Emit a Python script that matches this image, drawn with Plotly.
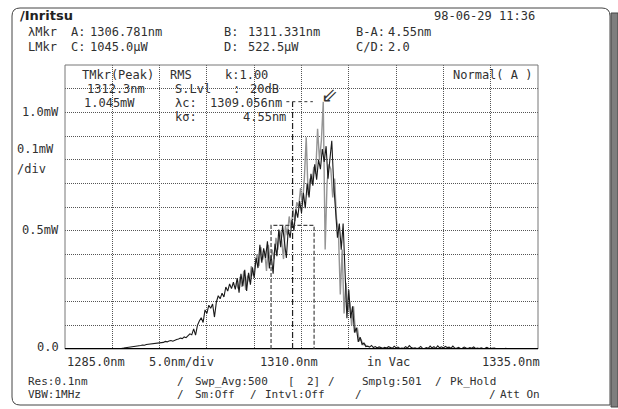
import plotly.graph_objects as go

# ---------------- data ----------------
wl_start = 1285.0
wl_step = 0.2
black_mw = [
    # 1285.0 - 1290.8
    0, 0, 0, 0, 0, 0, 0, 0, 0, 0,
    0, 0, 0, 0, 0, 0, 0, 0, 0, 0,
    0, 0, 0, 0, 0, 0, 0.001, 0.001, 0.002, 0.002,
    # 1291.0 - 1316.8
    0.003, 0.004, 0.005, 0.006, 0.008, 0.009, 0.010, 0.012, 0.013, 0.014,
    0.015, 0.017, 0.016, 0.019, 0.020, 0.022, 0.021, 0.024, 0.025, 0.026,
    0.027, 0.029, 0.028, 0.032, 0.030, 0.034, 0.036, 0.033, 0.038, 0.040,
    0.042, 0.046, 0.044, 0.051, 0.048, 0.058, 0.064, 0.060, 0.085, 0.059,
    0.100, 0.118, 0.132, 0.112, 0.165, 0.150, 0.185, 0.172, 0.190, 0.135,
    0.198, 0.225, 0.212, 0.236, 0.220, 0.262, 0.245, 0.275, 0.255, 0.282,
    0.252, 0.300, 0.238, 0.318, 0.265, 0.335, 0.245, 0.322, 0.272, 0.345,
    0.300, 0.385, 0.342, 0.440, 0.365, 0.425, 0.385, 0.455, 0.340, 0.395,
    0.318, 0.445, 0.392, 0.505, 0.430, 0.520, 0.445, 0.385, 0.505, 0.470,
    0.545, 0.500, 0.590, 0.555, 0.625, 0.575, 0.660, 0.595, 0.700, 0.640,
    0.740, 0.690, 0.780, 0.715, 0.800, 0.760, 0.845, 0.790, 0.857, 0.720,
    0.800, 0.880, 0.700, 0.560, 0.470, 0.530, 0.420, 0.530, 0.300, 0.130,
    0.250, 0.130, 0.180, 0.070, 0.090, 0.030, 0.050, 0.020, 0.025, 0.010,
    # 1317.0 - 1335.0
    0.012, 0.008, 0.015, 0.006, 0.010, 0.004, 0.009, 0.005, 0.003, 0.007,
    0.004, 0.010, 0.006, 0.003, 0.012, 0.005, 0.008, 0.002, 0.004, 0.003,
    0.010, 0.004, 0.014, 0.006, 0.003, 0.005, 0.002, 0.004, 0.011, 0.003,
    0.002, 0.006, 0.003, 0.012, 0.004, 0.010, 0.003, 0.013, 0.005, 0.009,
    0.004, 0.011, 0.006, 0.008, 0.003, 0.012, 0.004, 0.003, 0.007, 0.002,
    0.003, 0.008, 0.004, 0.002, 0.006, 0.003, 0.009, 0.002, 0.004, 0.002,
    0.005, 0.002, 0.003, 0.007, 0.002, 0.003, 0.002, 0.004, 0.001, 0.002,
    0.001, 0.002, 0.001, 0.003, 0.001, 0.001, 0.002, 0.001, 0.001, 0.001,
    0.001, 0.000, 0.001, 0.001, 0.000, 0.001, 0.000, 0.000, 0.001, 0.000,
    0.000,
]
gray_start = 1303.1
gray_mw = [
    0.280, 0.255, 0.305, 0.262, 0.330, 0.250, 0.310, 0.285, 0.350, 0.310,
    0.360, 0.400, 0.350, 0.430, 0.378, 0.415, 0.330, 0.440, 0.360, 0.420,
    0.380, 0.470, 0.420, 0.500, 0.460, 0.380, 0.520, 0.480, 0.560, 0.510,
    0.590, 0.540, 0.620, 0.600, 0.680, 0.610, 0.720, 0.895, 0.650, 0.720,
    0.700, 0.770, 0.740, 0.930, 0.800, 0.880, 1.045, 0.420, 0.700, 0.780,
    0.760, 0.640, 0.720, 0.550, 0.500, 0.230, 0.420, 0.150, 0.280, 0.160,
    0.200, 0.100, 0.180, 0.070, 0.090, 0.035, 0.040, 0.018, 0.020, 0.010,
]
black_wl = [round(wl_start + wl_step * i, 1) for i in range(len(black_mw))]
gray_wl = [round(gray_start + wl_step * i, 1) for i in range(len(gray_mw))]

x_range = [1285.0, 1335.0]
y_range = [0.0, 1.2]
peak_wl, peak_mw = 1312.3, 1.045
lambda_c = 1309.056
mkr_a, mkr_b = 1306.781, 1311.331
mkr_d = 0.5225

# ---------------- layout helpers ----------------
W, H = 618, 409
L, T, R, B = 65, 65, 538, 349


def px(x):
    return (x - L) / (R - L)


def py(y):
    return (B - y) / (B - T)


FONT = "DejaVu Sans Mono"
TXT = "#303030"
FS = 12

fig = go.Figure()
fig.add_trace(go.Scatter(x=gray_wl, y=gray_mw, mode="lines",
                         line=dict(color="#959595", width=1.4), hoverinfo="skip"))
fig.add_trace(go.Scatter(x=black_wl, y=black_mw, mode="lines",
                         line=dict(color="#1a1a1a", width=1.1), hoverinfo="skip"))

shapes = []
# plot border
shapes.append(dict(type="rect", xref="paper", yref="paper", x0=0, y0=0, x1=1, y1=1,
                   line=dict(color="#777777", width=1)))
# bottom axis
shapes.append(dict(type="line", xref="x", yref="y", x0=x_range[0], x1=x_range[1], y0=0, y1=0,
                   line=dict(color="#000000", width=2)))
# lambda_c dash-dot vertical
shapes.append(dict(type="line", xref="x", yref="y", x0=lambda_c, x1=lambda_c, y0=0, y1=peak_mw,
                   line=dict(color="#222222", width=1.2, dash="6px,2px,1px,2px")))
# horizontal at peak level
shapes.append(dict(type="line", xref="x", yref="y", x0=1308.4, x1=1311.2, y0=peak_mw, y1=peak_mw,
                   line=dict(color="#333333", width=1, dash="3px,3px")))
# kσ rectangle
shapes.append(dict(type="path", xref="x", yref="y",
                   path=f"M {mkr_a},0 L {mkr_a},{mkr_d} L {mkr_b},{mkr_d} L {mkr_b},0",
                   line=dict(color="#444444", width=1.2, dash="4px,2px")))

# outer rounded frame
fx0, fy0, fx1, fy1, rr = 12, 8, 610, 405, 8
path = (f"M {px(fx0)},{py(fy0+rr)} Q {px(fx0)},{py(fy0)} {px(fx0+rr)},{py(fy0)} "
        f"L {px(fx1-rr)},{py(fy0)} Q {px(fx1)},{py(fy0)} {px(fx1)},{py(fy0+rr)} "
        f"L {px(fx1)},{py(fy1)} "
        f"L {px(fx0+rr)},{py(fy1)} Q {px(fx0)},{py(fy1)} {px(fx0)},{py(fy1-rr)} Z")
shapes.append(dict(type="path", xref="paper", yref="paper", path=path,
                   line=dict(color="#444444", width=1)))
# right hatched stripe
shapes.append(dict(type="rect", xref="paper", yref="paper", x0=px(611), x1=px(618), y0=py(13), y1=py(407),
                   fillcolor="#7e7e7e", line=dict(color="#444444", width=1)))

ann = []


def text(s, x, y, anchor="left", size=FS, family=FONT, color=TXT):
    ann.append(dict(text=s, xref="paper", yref="paper", x=px(x), y=py(y), xanchor=anchor,
                    yanchor="middle", showarrow=False, font=dict(family=family, size=size, color=color)))


# header
text("<b>/Inritsu</b>", 18, 15, size=13, family="DejaVu Sans", color="#222222")
text("98-06-29 11:36", 432, 16)
text("λMkr", 26, 32); text("A:", 69, 32); text("1306.781nm", 88, 32)
text("B:", 222, 32); text("1311.331nm", 246, 32); text("B-A:", 354, 32); text("4.55nm", 386, 32)
text("LMkr", 26, 47); text("C:", 69, 47); text("1045.0μW", 88, 47)
text("D:", 222, 47); text("522.5μW", 246, 47); text("C/D:", 354, 47); text("2.0", 386, 47)

# in-plot texts
text("TMkr(Peak)", 80, 75); text("RMS", 168, 75); text("k:1.00", 223, 75)
text("Normal( A )", 451, 75)
text("1312.3nm", 85, 89); text("S.Lvl", 173, 89); text(":", 231, 89); text("20dB", 248, 89)
text("1.045mW", 82, 103); text("λc:", 173, 103); text("1309.056nm", 208, 103)
text("kσ:", 173, 117); text("4.55nm", 241, 117)
text("⇙", 329, 95, anchor="center", size=20, family="DejaVu Sans", color="#333333")

# y labels
text("1.0mW", 61, 112, anchor="right")
text("0.1mW", 15, 149)
text("/div", 15, 169)
text("0.5mW", 61, 230, anchor="right")
text("0.0", 61, 347, anchor="right")

# x labels
text("1285.0nm", 65, 362); text("5.0nm/div", 147, 362); text("1310.0nm", 258, 362)
text("in Vac", 365, 362); text("1335.0nm", 480, 362)

# footer
FF = 11
r1, r2 = 381, 394.5
text("Res:0.1nm", 26, r1, size=FF); text("/", 175, r1, size=FF); text("Swp_Avg:500", 193, r1, size=FF)
text("[", 286, r1, size=FF); text("2]", 305, r1, size=FF); text("/", 326, r1, size=FF)
text("Smplg:501", 360, r1, size=FF); text("/", 433, r1, size=FF); text("Pk_Hold", 448, r1, size=FF)
text("VBW:1MHz", 26, r2, size=FF); text("/", 175, r2, size=FF); text("Sm:Off", 193, r2, size=FF)
text("/", 248, r2, size=FF); text("Intvl:Off", 263, r2, size=FF); text("/", 353, r2, size=FF)
text("/", 487, r2, size=FF); text("Att On", 498, r2, size=FF)

fig.update_layout(
    width=W, height=H,
    margin=dict(l=L, r=W - R, t=T, b=H - B, pad=0),
    paper_bgcolor="white", plot_bgcolor="white",
    showlegend=False,
    shapes=shapes, annotations=ann,
    xaxis=dict(range=x_range, tick0=1285, dtick=5, showgrid=True, gridcolor="#555555",
               griddash="1px,1px", gridwidth=1, showticklabels=False, ticks="", zeroline=False,
               showline=False, fixedrange=True),
    yaxis=dict(range=y_range, tick0=0, dtick=0.1, showgrid=True, gridcolor="#555555",
               griddash="1px,1px", gridwidth=1, showticklabels=False, ticks="", zeroline=False,
               showline=False, fixedrange=True),
)

fig.write_html("out.html")
